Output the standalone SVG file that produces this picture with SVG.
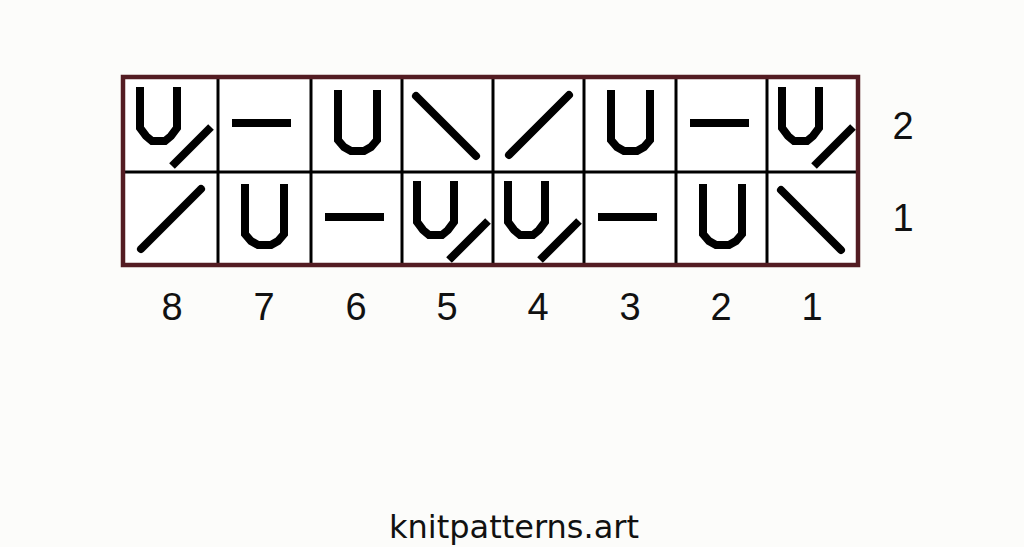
<svg xmlns="http://www.w3.org/2000/svg" xmlns:xlink="http://www.w3.org/1999/xlink" width="1024" height="547" viewBox="0 0 1024 547">
<style>
.sym{fill:none;stroke:#000;stroke-width:8;stroke-linecap:butt;stroke-linejoin:miter}
.rnd{stroke-linecap:round}
.grid{fill:none;stroke:#000;stroke-width:3}
.frame{fill:none;stroke:#531c22;stroke-width:4.5}
.num{font-family:"Liberation Sans",Arial,sans-serif;font-size:38px;fill:#111;text-anchor:middle}
.foot{font-family:"DejaVu Sans",Verdana,sans-serif;font-size:32px;fill:#111;text-anchor:middle}
</style>
<defs>
<g id="tUD"><path class="sym" d="M15,9 V50 L21,58 L27,63 H40 L46,58 L52,50 V9"/><line class="sym" x1="47" y1="88" x2="86" y2="49"/></g>
<g id="tU"><path class="sym" d="M27,12 V62 L33,69 L40,73 H53 L60,69 L66,62 V12"/></g>
<g id="tD"><line class="sym" x1="14" y1="45" x2="73" y2="45"/></g>
<g id="tB"><line class="sym rnd" x1="14" y1="18" x2="74" y2="78"/></g>
<g id="tS"><line class="sym rnd" x1="16" y1="77" x2="76" y2="17"/></g>
</defs>
<rect width="1024" height="547" fill="#fcfcfa"/>
<g id="grid">
<rect x="123" y="77" width="735" height="188" fill="#fff"/>
<line class="grid" x1="123" y1="172" x2="858" y2="172"/>
<line class="grid" x1="218" y1="77" x2="218" y2="265"/>
<line class="grid" x1="311" y1="77" x2="311" y2="265"/>
<line class="grid" x1="402" y1="77" x2="402" y2="265"/>
<line class="grid" x1="493" y1="77" x2="493" y2="265"/>
<line class="grid" x1="584" y1="77" x2="584" y2="265"/>
<line class="grid" x1="676" y1="77" x2="676" y2="265"/>
<line class="grid" x1="767" y1="77" x2="767" y2="265"/>
<rect class="frame" x="123" y="77" width="735" height="188"/>
</g>
<g id="row2">
<use xlink:href="#tUD" href="#tUD" transform="translate(125,78)"/>
<use xlink:href="#tD" href="#tD" transform="translate(218,78)"/>
<use xlink:href="#tU" href="#tU" transform="translate(311,78)"/>
<use xlink:href="#tB" href="#tB" transform="translate(402,78)"/>
<use xlink:href="#tS" href="#tS" transform="translate(493,78)"/>
<use xlink:href="#tU" href="#tU" transform="translate(584,78)"/>
<use xlink:href="#tD" href="#tD" transform="translate(676,78)"/>
<use xlink:href="#tUD" href="#tUD" transform="translate(767,78)"/>
</g>
<g id="row1">
<use xlink:href="#tS" href="#tS" transform="translate(125,172)"/>
<use xlink:href="#tU" href="#tU" transform="translate(218,172)"/>
<use xlink:href="#tD" href="#tD" transform="translate(311,172)"/>
<use xlink:href="#tUD" href="#tUD" transform="translate(402,172)"/>
<use xlink:href="#tUD" href="#tUD" transform="translate(493,172)"/>
<use xlink:href="#tD" href="#tD" transform="translate(584,172)"/>
<use xlink:href="#tU" href="#tU" transform="translate(676,172)"/>
<use xlink:href="#tB" href="#tB" transform="translate(767,172)"/>
</g>
<g id="col-labels">
<text class="num" x="172" y="320">8</text>
<text class="num" x="264" y="320">7</text>
<text class="num" x="356" y="320">6</text>
<text class="num" x="447" y="320">5</text>
<text class="num" x="538" y="320">4</text>
<text class="num" x="630" y="320">3</text>
<text class="num" x="721" y="320">2</text>
<text class="num" x="812" y="320">1</text>
</g>
<g id="row-labels">
<text class="num" x="903" y="139">2</text>
<text class="num" x="903" y="231">1</text>
</g>
<text class="foot" x="514" y="538">knitpatterns.art</text>
</svg>
